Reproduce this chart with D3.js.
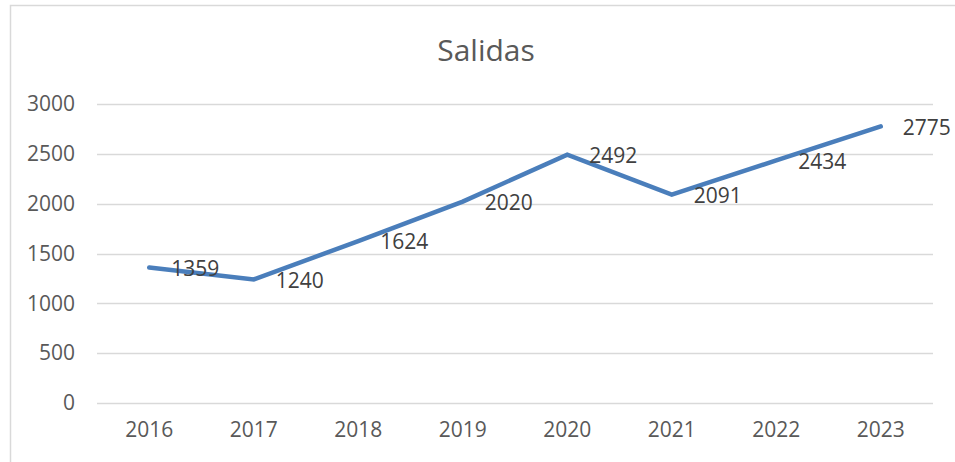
<!DOCTYPE html>
<html>
<head>
<meta charset="utf-8">
<script src="https://cdn.jsdelivr.net/npm/d3@7"></script>
<style>
html, body { margin: 0; padding: 0; background: #fff; }
svg { display: block; }
text { font-family: "Open Sans", "Liberation Sans", sans-serif; fill: #595959; }
</style>
</head>
<body>
<svg id="chart" width="955" height="462"></svg>
<script>
const title = "Salidas";
const years = ["2016", "2017", "2018", "2019", "2020", "2021", "2022", "2023"];
const values = [1359, 1240, 1624, 2020, 2492, 2091, 2434, 2775];
const yTicks = [0, 500, 1000, 1500, 2000, 2500, 3000];

const svg = d3.select("#chart");

// chart border (only top and left visible in the crop)
svg.append("path")
  .attr("d", "M10.5,462 L10.5,5.5 L955,5.5")
  .attr("fill", "none")
  .attr("stroke", "#d9d9d9")
  .attr("stroke-width", 1.5);

const x = d3.scaleBand().domain(years).range([97, 933]).padding(0);
const y = d3.scaleLinear().domain([0, 3000]).range([403, 104]);

// gridlines
svg.append("g").selectAll("line").data(yTicks).join("line")
  .attr("x1", 97).attr("x2", 933)
  .attr("y1", d => Math.round(y(d)) + 0.5).attr("y2", d => Math.round(y(d)) + 0.5)
  .attr("stroke", "#d9d9d9").attr("stroke-width", 1.5);

// y axis labels
const yAxis = d3.axisLeft(y).tickValues(yTicks).tickFormat(d3.format("d")).tickSize(0).tickPadding(0);
const gy = svg.append("g").attr("transform", "translate(75,0)").call(yAxis);
gy.select(".domain").remove();
gy.selectAll("text").attr("font-size", 21).attr("fill", "#595959")
  .attr("font-family", "'Open Sans', sans-serif");

// x axis labels
const xAxis = d3.axisBottom(x).tickSize(0).tickPadding(0);
const gx = svg.append("g").attr("transform", "translate(0,422)").call(xAxis);
gx.select(".domain").remove();
gx.selectAll("text").attr("font-size", 21).attr("fill", "#595959")
  .attr("font-family", "'Open Sans', sans-serif");

// line
const line = d3.line()
  .x((d, i) => x(years[i]) + x.bandwidth() / 2)
  .y(d => y(d));
svg.append("path").datum(values)
  .attr("d", line)
  .attr("fill", "none")
  .attr("stroke", "#4a7ebb")
  .attr("stroke-width", 4.5)
  .attr("stroke-linejoin", "miter")
  .attr("stroke-linecap", "round");

// data labels
svg.append("g").selectAll("text").data(values).join("text")
  .attr("x", (d, i) => x(years[i]) + x.bandwidth() / 2 + 22)
  .attr("y", d => y(d) + 1)
  .attr("dy", "0.35em")
  .attr("font-size", 21)
  .style("fill", "#404040")
  .text(d => d);

// title
svg.append("text")
  .attr("x", 486).attr("y", 61)
  .attr("text-anchor", "middle")
  .attr("font-size", 30)
  .text(title);
</script>
</body>
</html>
